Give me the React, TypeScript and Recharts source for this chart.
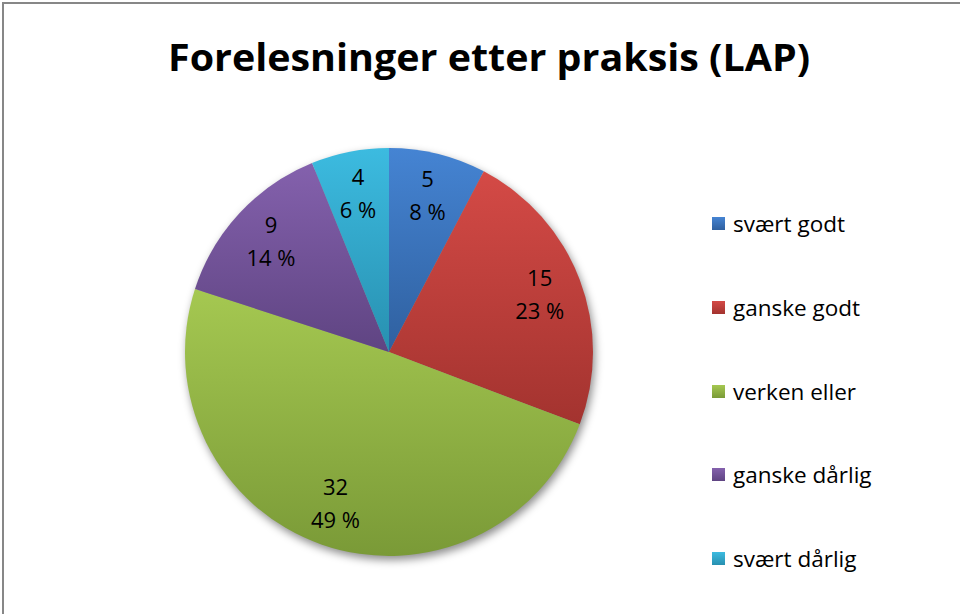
import { PieChart, Pie, Cell, Legend } from 'recharts';

const categories = ['svært godt', 'ganske godt', 'verken eller', 'ganske dårlig', 'svært dårlig'];
const counts = [5, 15, 32, 9, 4];
const topColors = ['#4584d3', '#d44a46', '#a5c851', '#8461ad', '#3cbbe0'];
const bottomColors = ['#2f609f', '#a3332f', '#7a9a37', '#5f4482', '#2890b0'];

const data = categories.map((name, i) => ({ name, value: counts[i] }));
const total = counts.reduce((a, b) => a + b, 0);
const shadowData = [{ name: 'shadow', value: total }];

const FONT = '"Open Sans", "Liberation Sans", sans-serif';
const RADIAN = Math.PI / 180;

const renderLabel = (props: any) => {
    const { cx, cy, midAngle, outerRadius, value } = props;
    const r = outerRadius * 0.79;
    const x = cx + r * Math.cos(-midAngle * RADIAN);
    const y = cy + r * Math.sin(-midAngle * RADIAN);
    const pct = Math.round((value / total) * 100);
    return (
        <text x={x} y={y} textAnchor="middle" fontFamily={FONT} fontSize={22} fill="#000">
            <tspan x={x} y={y - 9}>{value}</tspan>
            <tspan x={x} y={y + 24}>{`${pct} %`}</tspan>
        </text>
    );
};

const renderLegend = () => (
    <div style={{ fontFamily: FONT, fontSize: 22.5, color: '#000' }}>
        {categories.map((name, i) => (
            <div key={name} style={{ height: 83.7, display: 'flex', alignItems: 'center' }}>
                <svg width={13} height={13} style={{ marginRight: 8 }}>
                    <rect width={13} height={13} fill={`url(#grad${i})`} />
                </svg>
                <span>{name}</span>
            </div>
        ))}
    </div>
);

export default function App() {
    return (
        <div style={{ position: 'fixed', left: 0, top: 0, width: 960, height: 614, overflow: 'hidden', background: '#fff' }}>
            <svg width={960} height={614} style={{ position: 'absolute', left: 0, top: 0 }}>
                <rect x={3} y={3} width={1100} height={1100} fill="none" stroke="#878787" strokeWidth={2} />
                <text
                    x={489}
                    y={71}
                    textAnchor="middle"
                    fontFamily={FONT}
                    fontWeight="bold"
                    fontSize={38}
                    textLength={642}
                    lengthAdjust="spacingAndGlyphs"
                    fill="#000"
                >
                    Forelesninger etter praksis (LAP)
                </text>
            </svg>
            <div style={{ position: 'absolute', left: 0, top: 0 }}>
                <PieChart width={960} height={614} margin={{ top: 0, right: 0, bottom: 0, left: 0 }}>
                    <defs>
                        {topColors.map((c, i) => (
                            <linearGradient key={i} id={`grad${i}`} x1="0" y1="0" x2="0" y2="1">
                                <stop offset="0%" stopColor={c} />
                                <stop offset="100%" stopColor={bottomColors[i]} />
                            </linearGradient>
                        ))}
                        <filter id="pieShadow" x="-20%" y="-20%" width="140%" height="140%">
                            <feGaussianBlur stdDeviation="4" />
                        </filter>
                    </defs>
                    <Pie
                        data={shadowData}
                        dataKey="value"
                        cx={391}
                        cy={356}
                        outerRadius={204}
                        stroke="none"
                        isAnimationActive={false}
                        legendType="none"
                    >
                        <Cell fill="rgba(0,0,0,0.45)" filter="url(#pieShadow)" />
                    </Pie>
                    <Pie
                        data={data}
                        dataKey="value"
                        nameKey="name"
                        cx={389}
                        cy={352}
                        outerRadius={204}
                        startAngle={90}
                        endAngle={-270}
                        stroke="none"
                        label={renderLabel}
                        labelLine={false}
                        isAnimationActive={false}
                    >
                        {data.map((_, i) => (
                            <Cell key={i} fill={`url(#grad${i})`} />
                        ))}
                    </Pie>
                    <Legend
                        content={renderLegend}
                        wrapperStyle={{ left: 712, top: 182, width: 230, bottom: 'auto', right: 'auto' }}
                    />
                </PieChart>
            </div>
        </div>
    );
}
